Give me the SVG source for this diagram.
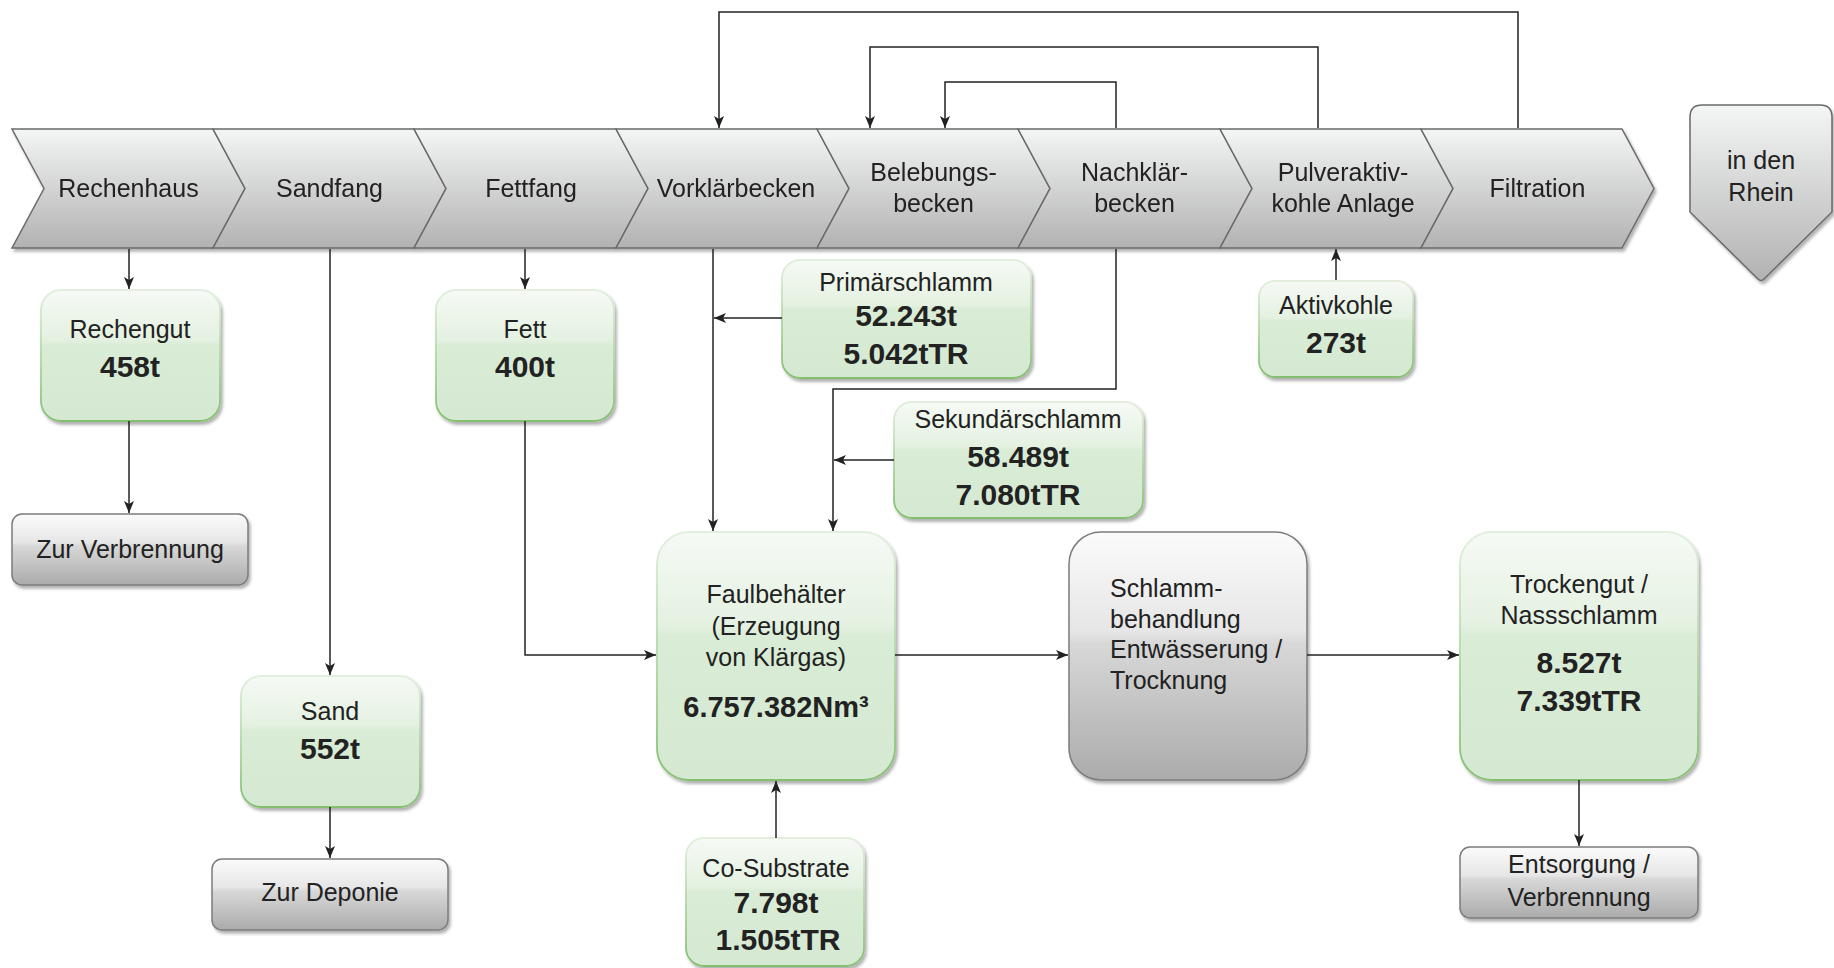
<svg xmlns="http://www.w3.org/2000/svg" width="1834" height="968" viewBox="0 0 1834 968">
<defs>
<linearGradient id="gChev" x1="0" y1="0" x2="0" y2="1">
<stop offset="0" stop-color="#f4f5f5"/><stop offset="1" stop-color="#b2b2b2"/>
</linearGradient>
<linearGradient id="gGreen" x1="0" y1="0" x2="0" y2="1">
<stop offset="0" stop-color="#f6faf5"/><stop offset="0.38" stop-color="#e4f1e1"/><stop offset="0.42" stop-color="#d9ecd5"/><stop offset="1" stop-color="#d5e8d1"/>
</linearGradient>
<linearGradient id="gGreenStroke" x1="0" y1="0" x2="0" y2="1">
<stop offset="0" stop-color="#e2efde"/><stop offset="1" stop-color="#84bf70"/>
</linearGradient>
<linearGradient id="gGray" x1="0" y1="0" x2="0" y2="1">
<stop offset="0" stop-color="#fbfbfb"/><stop offset="0.4" stop-color="#e6e6e6"/><stop offset="0.45" stop-color="#d8d8d8"/><stop offset="1" stop-color="#ababab"/>
</linearGradient>
<filter id="sh" x="-10%" y="-10%" width="125%" height="130%">
<feDropShadow dx="2" dy="3" stdDeviation="1.5" flood-color="#000" flood-opacity="0.3"/>
</filter>
<marker id="ah" markerUnits="userSpaceOnUse" markerWidth="12" markerHeight="10" refX="12" refY="5" orient="auto">
<path d="M0,0 L12,5 L0,10 L3,5 Z" fill="#222"/>
</marker>
<style>
.chev{fill:url(#gChev);stroke:#6a6a6a;stroke-width:1.5}
.green{fill:url(#gGreen);stroke:url(#gGreenStroke);stroke-width:1.8;filter:url(#sh)}
.gray{fill:url(#gGray);stroke:#7c7c7c;stroke-width:1.5;filter:url(#sh)}
.t{font-family:"Liberation Sans",Arial,sans-serif;font-size:25px;fill:#222;text-anchor:middle}
.b{font-family:"Liberation Sans",Arial,sans-serif;font-size:30px;font-weight:bold;fill:#222;text-anchor:middle}
.tl{text-anchor:start}
.c{fill:none;stroke:#222;stroke-width:1.5}
.ca{fill:none;stroke:#222;stroke-width:1.5;marker-end:url(#ah)}
</style>
</defs>
<rect width="1834" height="968" fill="#ffffff"/>

<g id="band" filter="url(#sh)">
<g id="rechenhaus"><path class="chev" d="M12,129 L213,129 L245,188.5 L213,248 L12,248 L44,188.5 Z"/><text class="t" x="128.5" y="197">Rechenhaus</text></g>
<g id="sandfang"><path class="chev" d="M213,129 L414,129 L446,188.5 L414,248 L213,248 L245,188.5 Z"/><text class="t" x="329.5" y="197">Sandfang</text></g>
<g id="fettfang"><path class="chev" d="M414,129 L616,129 L648,188.5 L616,248 L414,248 L446,188.5 Z"/><text class="t" x="531" y="197">Fettfang</text></g>
<g id="vorklaerbecken"><path class="chev" d="M616,129 L817,129 L849,188.5 L817,248 L616,248 L648,188.5 Z"/><text class="t" x="736" y="197">Vorklärbecken</text></g>
<g id="belebungsbecken"><path class="chev" d="M817,129 L1018,129 L1050,188.5 L1018,248 L817,248 L849,188.5 Z"/><text class="t" x="933.5" y="181">Belebungs-</text><text class="t" x="933.5" y="212">becken</text></g>
<g id="nachklaerbecken"><path class="chev" d="M1018,129 L1220,129 L1252,188.5 L1220,248 L1018,248 L1050,188.5 Z"/><text class="t" x="1134.5" y="181">Nachklär-</text><text class="t" x="1134.5" y="212">becken</text></g>
<g id="pulveraktivkohle"><path class="chev" d="M1220,129 L1421,129 L1453,188.5 L1421,248 L1220,248 L1252,188.5 Z"/><text class="t" x="1343" y="181">Pulveraktiv-</text><text class="t" x="1343" y="212">kohle Anlage</text></g>
<g id="filtration"><path class="chev" d="M1421,129 L1622,129 L1654,188.5 L1622,248 L1421,248 L1453,188.5 Z"/><text class="t" x="1537.5" y="197">Filtration</text></g>
</g>

<g id="rhein">
<path class="chev" filter="url(#sh)" d="M1702,105 L1820,105 Q1832,105 1832,117 L1832,212 L1764,279 Q1761,282 1758,279 L1690,212 L1690,117 Q1690,105 1702,105 Z"/>
<text class="t" x="1761" y="169">in den</text><text class="t" x="1761" y="201">Rhein</text>
</g>

<g id="rechengut"><rect class="green" x="41" y="290" width="179" height="131" rx="20"/><text class="t" x="130" y="338">Rechengut</text><text class="b" x="130" y="377">458t</text></g>
<g id="zurverbrennung"><rect class="gray" x="12" y="514" width="236" height="71" rx="10"/><text class="t" x="130" y="558">Zur Verbrennung</text></g>
<g id="sand"><rect class="green" x="241" y="676" width="179" height="131" rx="20"/><text class="t" x="330" y="720">Sand</text><text class="b" x="330" y="759">552t</text></g>
<g id="zurdeponie"><rect class="gray" x="212" y="859" width="236" height="71" rx="10"/><text class="t" x="330" y="901">Zur Deponie</text></g>
<g id="fett"><rect class="green" x="436" y="290" width="178" height="131" rx="20"/><text class="t" x="525" y="338">Fett</text><text class="b" x="525" y="377">400t</text></g>
<g id="primaerschlamm"><rect class="green" x="782" y="260" width="249" height="118" rx="18"/><text class="t" x="906" y="291">Primärschlamm</text><text class="b" x="906" y="326">52.243t</text><text class="b" x="906" y="364">5.042tTR</text></g>
<g id="sekundaerschlamm"><rect class="green" x="894" y="402" width="249" height="116" rx="18"/><text class="t" x="1018" y="428">Sekundärschlamm</text><text class="b" x="1018" y="467">58.489t</text><text class="b" x="1018" y="505">7.080tTR</text></g>
<g id="aktivkohle"><rect class="green" x="1259" y="281" width="154" height="96" rx="16"/><text class="t" x="1336" y="314">Aktivkohle</text><text class="b" x="1336" y="353">273t</text></g>
<g id="faulbehaelter"><rect class="green" x="657" y="532" width="238" height="248" rx="32"/><text class="t" x="776" y="603">Faulbehälter</text><text class="t" x="776" y="635">(Erzeugung</text><text class="t" x="776" y="666">von Klärgas)</text><text class="b" x="776" y="717" style="font-size:29px">6.757.382Nm³</text></g>
<g id="schlammbehandlung"><rect class="gray" x="1069" y="532" width="238" height="248" rx="32"/><text class="t tl" x="1110" y="597">Schlamm-</text><text class="t tl" x="1110" y="628">behandlung</text><text class="t tl" x="1110" y="658">Entwässerung /</text><text class="t tl" x="1110" y="689">Trocknung</text></g>
<g id="trockengut"><rect class="green" x="1460" y="532" width="238" height="248" rx="32"/><text class="t" x="1579" y="593">Trockengut /</text><text class="t" x="1579" y="624">Nassschlamm</text><text class="b" x="1579" y="673">8.527t</text><text class="b" x="1579" y="711">7.339tTR</text></g>
<g id="entsorgung"><rect class="gray" x="1460" y="847" width="238" height="71" rx="10"/><text class="t" x="1579" y="873">Entsorgung /</text><text class="t" x="1579" y="906">Verbrennung</text></g>
<g id="cosubstrate"><rect class="green" x="686" y="838" width="178" height="128" rx="18"/><text class="t" x="776" y="877">Co-Substrate</text><text class="b" x="776" y="913">7.798t</text><text class="b" x="778" y="950">1.505tTR</text></g>

<g id="connectors">
<path class="ca" d="M129,249 V289"/>
<path class="ca" d="M129,421 V513"/>
<path class="ca" d="M330,249 V675"/>
<path class="ca" d="M330,807 V858"/>
<path class="ca" d="M525,249 V289"/>
<path class="ca" d="M525,421 V655 H656"/>
<path class="ca" d="M713,249 V531"/>
<path class="ca" d="M782,318 H714"/>
<path class="ca" d="M1116,249 V389 H833 V531"/>
<path class="ca" d="M894,460 H834"/>
<path class="ca" d="M895,655 H1068"/>
<path class="ca" d="M1307,655 H1459"/>
<path class="ca" d="M1579,780 V846"/>
<path class="ca" d="M776,838 V781"/>
<path class="ca" d="M1336,280 V249"/>
<path class="ca" d="M1518,128 V12 H719 V128"/>
<path class="ca" d="M1318,128 V47 H870 V128"/>
<path class="ca" d="M1116,128 V82 H945 V128"/>
</g>
</svg>
